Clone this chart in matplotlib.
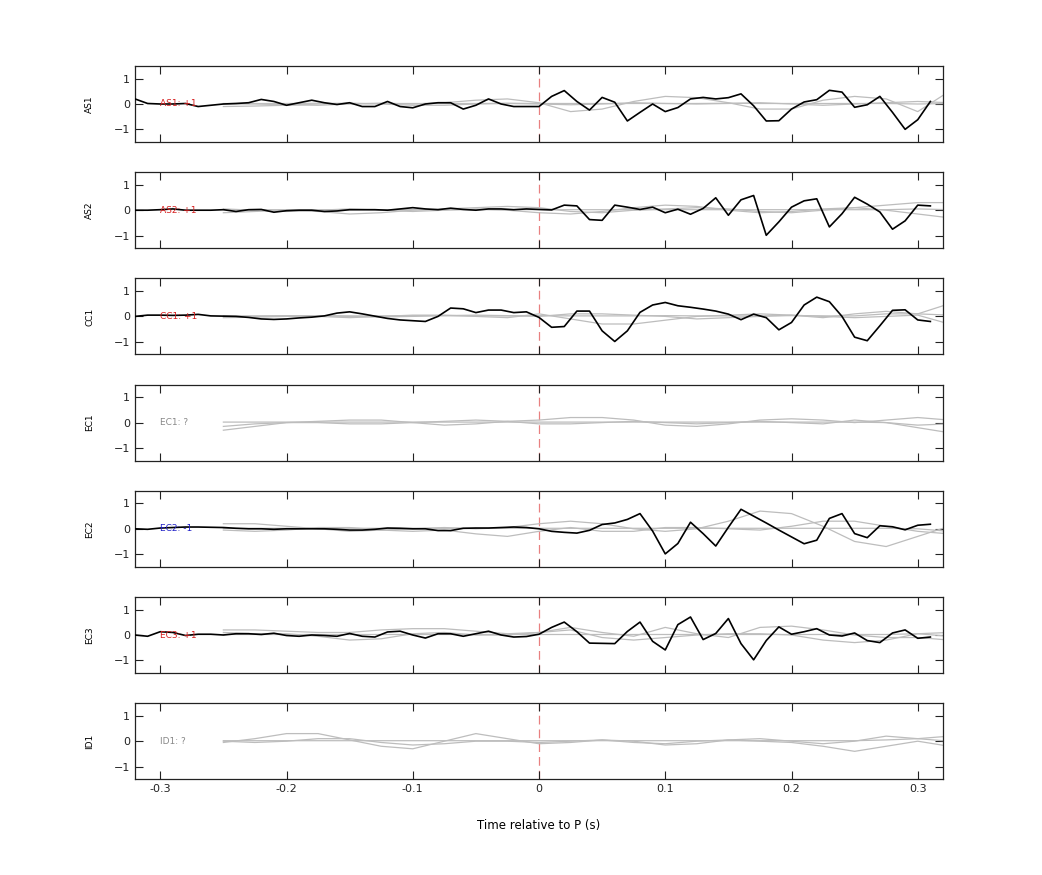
import numpy as np
import matplotlib
matplotlib.use("Agg")
import matplotlib.pyplot as plt

stations = ["AS1", "AS2", "CC1", "EC1", "EC2", "EC3", "ID1"]
labels = ["AS1: +1", "AS2: +1", "CC1: +1", "EC1: ?", "EC2: -1", "EC3: +1", "ID1: ?"]
label_colors = ["#d62020", "#d62020", "#d62020", "#888888", "#2020c8", "#d62020", "#888888"]

t_black = np.round(np.arange(-0.32, 0.315, 0.01), 2)
t_gray = np.round(np.arange(-0.25, 0.326, 0.025), 3)

black = {
    "AS1": [0.2, 0.02, 0, 0, 0.02, -0.1, -0.05, 0, 0.02, 0.05, 0.18, 0.1, -0.05, 0.05, 0.15, 0.05,
            -0.02, 0.05, -0.1, -0.1, 0.1, -0.1, -0.15, 0, 0.05, 0.05, -0.2, -0.05, 0.2, 0, -0.1, -0.1,
            -0.1, 0.3, 0.53, 0.1, -0.24, 0.26, 0.07, -0.67, -0.33, 0, -0.3, -0.14, 0.2, 0.26, 0.2, 0.25,
            0.4, -0.07, -0.67, -0.66, -0.2, 0.08, 0.17, 0.54, 0.47, -0.13, -0.03, 0.3, -0.33, -1.0, -0.62, 0.1],
    "AS2": [0, 0, 0.02, 0.05, 0, 0, 0, 0.02, -0.05, 0.02, 0.03, -0.08, -0.02, 0, 0, -0.05,
            -0.03, 0.02, 0.02, 0.02, 0, 0.05, 0.1, 0.05, 0.02, 0.08, 0.03, 0, 0.05, 0.05, 0.02, 0.05,
            0.03, 0.01, 0.2, 0.17, -0.37, -0.4, 0.2, 0.12, 0.03, 0.12, -0.1, 0.04, -0.16, 0.07, 0.49, -0.2,
            0.41, 0.58, -0.99, -0.46, 0.12, 0.37, 0.45, -0.66, -0.14, 0.51, 0.24, -0.07, -0.75, -0.42, 0.2, 0.17],
    "CC1": [0, 0.05, 0.05, 0.04, 0.05, 0.08, 0.02, 0.01, 0, -0.04, -0.1, -0.12, -0.1, -0.06, -0.03, 0.02,
            0.13, 0.18, 0.1, 0.01, -0.08, -0.14, -0.17, -0.2, 0, 0.33, 0.3, 0.15, 0.25, 0.25, 0.15, 0.18,
            -0.04, -0.43, -0.4, 0.21, 0.21, -0.57, -0.99, -0.57, 0.16, 0.45, 0.55, 0.42, 0.36, 0.29, 0.21, 0.09,
            -0.13, 0.09, -0.05, -0.53, -0.24, 0.45, 0.76, 0.58, 0, -0.82, -0.96, -0.37, 0.24, 0.26, -0.14, -0.2],
    "EC2": [0, -0.02, 0.03, 0.05, 0.07, 0.07, 0.06, 0.05, 0.02, 0, 0, -0.02, 0, 0, 0, 0,
            -0.02, -0.05, -0.05, -0.02, 0.03, 0.02, 0, 0, -0.07, -0.07, 0.02, 0.03, 0.03, 0.05, 0.07, 0.05,
            0, -0.1, -0.14, -0.17, -0.06, 0.17, 0.23, 0.37, 0.6, -0.09, -0.99, -0.58, 0.26, -0.19, -0.68, 0.06,
            0.77, 0.5, 0.23, -0.05, -0.32, -0.59, -0.45, 0.41, 0.6, -0.19, -0.35, 0.12, 0.08, -0.04, 0.14, 0.18],
    "EC3": [0, -0.05, 0.13, 0.1, -0.02, 0.03, 0.03, 0, 0.05, 0.05, 0.02, 0.07, -0.02, -0.05, 0, -0.02,
            -0.05, 0.06, -0.05, -0.08, 0.12, 0.15, 0, -0.12, 0.05, 0.05, -0.05, 0.05, 0.15, 0, -0.08, -0.06,
            0.03, 0.3, 0.51, 0.13, -0.32, -0.33, -0.34, 0.14, 0.51, -0.25, -0.59, 0.41, 0.71, -0.18, 0.06, 0.65,
            -0.34, -0.98, -0.22, 0.32, 0.03, 0.13, 0.25, 0, -0.04, 0.08, -0.22, -0.3, 0.08, 0.2, -0.13, -0.08],
}

gray = {
    "AS1": [[0, 0, -0.03, -0.05, 0, 0.03, 0, 0.05, 0.15, 0.2, 0.05, -0.3, -0.2, 0.1, 0.3, 0.25, 0.05, -0.2, -0.2, 0.15, 0.3, 0.2, -0.3, 0.5],
            [-0.1, -0.08, -0.05, 0, 0.03, 0, -0.05, -0.05, 0, 0.02, 0, -0.03, 0, 0.05, 0.02, 0, 0.02, 0.05, 0, -0.05, 0, 0.05, 0.1, 0.05],
            [0.02, 0.02, 0.02, 0.03, 0.02, 0.02, 0.02, 0.02, 0.02, 0.03, 0.02, 0.02, 0.02, 0.02, 0.02, 0.02, 0.03, 0.02, 0.02, 0.02, 0.02, 0.02, 0.0, 0.02]],
    "AS2": [[-0.1, -0.05, 0, -0.05, -0.15, -0.1, 0, 0.05, 0.1, 0.15, 0.1, -0.05, -0.1, 0, 0.05, 0.1, 0.05, -0.05, -0.1, 0, 0.1, 0.2, 0.3, 0.3],
            [0.05, 0, -0.05, 0, 0.05, 0, -0.05, 0, 0.05, 0, -0.1, -0.15, -0.05, 0.1, 0.2, 0.15, 0, -0.1, -0.05, 0.05, 0.1, 0, -0.15, -0.3],
            [0.02, 0.02, 0.02, 0.02, 0.02, 0.02, 0.02, 0.02, 0.02, 0.02, 0.02, 0.02, 0.02, 0.02, 0.02, 0.02, 0.02, 0.02, 0.02, 0.02, 0.02, 0.02, 0.05, 0.02]],
    "CC1": [[0, 0, 0.02, 0, -0.05, 0, 0.05, 0.05, 0, -0.05, 0.1, -0.1, -0.3, -0.3, -0.15, 0, 0.05, 0.1, 0.05, -0.05, 0.1, 0.2, 0.1, 0.5],
            [-0.05, -0.03, 0, 0.02, 0, -0.02, 0, 0.03, 0.05, 0.03, 0, 0.1, 0.1, 0.05, 0, -0.1, -0.05, 0, 0.05, 0, -0.05, 0, 0.05, -0.3],
            [0.02, 0.02, 0.03, 0.03, 0.02, 0.02, 0.03, 0.03, 0.02, 0.02, 0.03, 0.02, 0.02, 0.02, 0.03, 0.02, 0.02, 0.02, 0.03, 0.02, 0.02, 0.1, 0.1, 0.05]],
    "EC1": [[-0.3, -0.15, 0, 0.05, 0.1, 0.1, 0, -0.1, -0.05, 0.05, 0.1, 0.2, 0.2, 0.1, -0.1, -0.15, -0.05, 0.1, 0.15, 0.1, 0, 0.1, 0.2, 0.1],
            [-0.15, -0.05, 0, 0, -0.05, -0.05, 0, 0.05, 0.1, 0.05, -0.05, -0.05, 0, 0.05, 0, -0.05, 0, 0.05, 0, -0.05, 0.1, 0, -0.2, -0.4],
            [0.02, 0.02, 0.02, 0.02, 0.02, 0.02, 0.02, 0.02, 0.02, 0.02, 0.02, 0.02, 0.02, 0.02, 0.02, 0.02, 0.02, 0.02, 0.02, 0.02, 0.02, 0.0, -0.1, -0.05]],
    "EC2": [[0.2, 0.2, 0.1, 0, -0.1, -0.05, 0, 0.05, 0, 0.05, 0.2, 0.3, 0.2, 0, -0.1, 0, 0.3, 0.7, 0.6, 0.1, -0.5, -0.7, -0.3, 0.1],
            [-0.05, -0.1, -0.05, 0.05, 0.05, -0.05, -0.1, -0.05, -0.2, -0.3, -0.1, 0.05, -0.1, -0.1, 0.05, 0.05, 0, -0.05, 0.1, 0.3, 0.3, 0.1, -0.1, -0.2],
            [0.02, 0.02, 0.02, 0.02, 0.02, 0.02, 0.02, 0.02, 0.02, 0.02, 0.02, 0.02, 0.02, 0.02, 0.02, 0.02, 0.02, 0.02, 0.02, 0.02, 0.02, 0.02, 0.0, -0.1]],
    "EC3": [[0.2, 0.2, 0.15, 0.1, 0.1, 0.2, 0.25, 0.25, 0.15, 0.05, 0.1, 0.3, 0.1, -0.05, 0.3, 0.05, -0.1, 0.3, 0.35, 0.2, 0, -0.1, -0.1, -0.2],
            [0.1, 0.05, 0.05, -0.05, -0.2, -0.15, 0.05, 0.1, 0, 0, 0.1, 0.2, -0.1, -0.2, -0.1, 0, 0.05, 0.05, 0, -0.2, -0.3, -0.2, 0.05, -0.05],
            [0.02, 0.02, 0.02, 0.02, 0.02, 0.02, 0.02, 0.02, 0.02, 0.02, 0.02, 0.02, 0.02, 0.02, 0.02, 0.02, 0.02, 0.02, 0.02, 0.02, 0.02, 0.02, 0.05, 0.1]],
    "ID1": [[-0.05, 0.1, 0.3, 0.3, 0.05, -0.2, -0.3, 0, 0.3, 0.1, -0.1, -0.05, 0.05, 0, -0.15, -0.1, 0.05, 0.1, 0, -0.1, 0, 0.2, 0.1, 0.2],
            [0, -0.05, 0, 0.1, 0.1, -0.05, -0.15, -0.1, 0, 0, -0.05, 0, 0.05, -0.05, -0.1, 0, 0.05, 0, -0.05, -0.2, -0.4, -0.2, 0, -0.2],
            [0.02, 0.02, 0.02, 0.02, 0.02, 0.02, 0.02, 0.02, 0.02, 0.02, 0.02, 0.02, 0.02, 0.02, 0.02, 0.02, 0.02, 0.02, 0.02, 0.02, 0.02, 0.05, 0.1, 0.0]],
}

fig = plt.figure(figsize=(10.42, 8.75), dpi=100)
W, H = 1042, 875
left, right = 135, 943
for k, st in enumerate(stations):
    top = 66 + 106.2 * k
    ax = fig.add_axes([left / W, 1 - (top + 76) / H, (right - left) / W, 76 / H])
    for g in gray[st]:
        ax.plot(t_gray, g, color="#bdbdbd", lw=0.9, zorder=2)
    if st in black:
        ax.plot(t_black, black[st], color="black", lw=1.2, zorder=3)
    ax.axvline(0, color="#e88080", lw=0.9, ls=(0, (7, 4)), zorder=1)
    ax.text(-0.3, 0, labels[k], color=label_colors[k], fontsize=6.5, va="center", ha="left", zorder=4)
    ax.set_xlim(-0.32, 0.32)
    ax.set_ylim(-1.5, 1.5)
    ax.set_yticks([-1, 0, 1])
    ax.set_xticks([-0.3, -0.2, -0.1, 0, 0.1, 0.2, 0.3])
    ax.tick_params(direction="in", top=True, right=True, labelsize=8, length=6, width=0.8, colors="#222222")
    ax.set_ylabel(st, fontsize=6.5, labelpad=14)
    for s in ax.spines.values():
        s.set_linewidth(0.9)
        s.set_color("#222222")
    if k < len(stations) - 1:
        ax.set_xticklabels([])
    else:
        ax.set_xticklabels(["-0.3", "-0.2", "-0.1", "0", "0.1", "0.2", "0.3"])
        ax.set_xlabel("Time relative to P (s)", fontsize=8.5, labelpad=18)

fig.savefig("out.png", dpi=100)
